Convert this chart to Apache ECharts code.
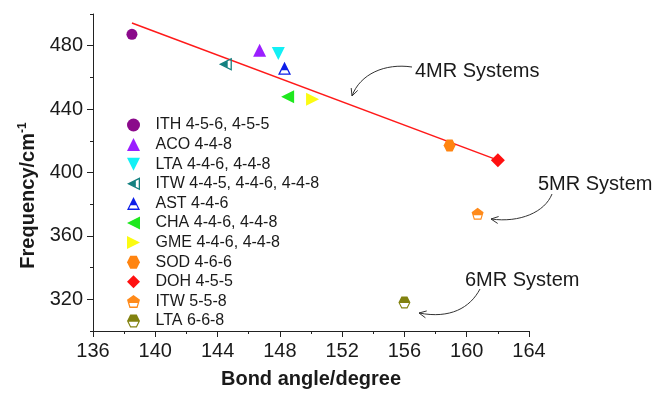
<!DOCTYPE html>
<html><head><meta charset="utf-8">
<script src="https://cdn.jsdelivr.net/npm/echarts@6/dist/echarts.min.js"></script>
<style>html,body{margin:0;padding:0;background:#fff}#c{width:654px;height:394px}</style>
</head><body><div id="c"></div>
<script>
// ---- data ----
const seriesNames = ['ITH 4-5-6, 4-5-5', 'ACO 4-4-8', 'LTA 4-4-6, 4-4-8', 'ITW 4-4-5, 4-4-6, 4-4-8', 'AST 4-4-6', 'CHA 4-4-6, 4-4-8', 'GME 4-4-6, 4-4-8', 'SOD 4-6-6', 'DOH 4-5-5', 'ITW 5-5-8', 'LTA 6-6-8'];
const bondAngle = [138.5, 146.7, 147.9, 144.5, 148.3, 148.5, 150.1, 158.9, 162.0, 160.7, 156.0];
const frequency = [487.2, 477.1, 475.1, 468.3, 465.7, 447.8, 446.2, 417.0, 407.8, 374.0, 318.0];
const fitAngle = [138.5, 162.0];
const fitFrequency = [494.3, 407.8];
const xTicks = [136, 140, 144, 148, 152, 156, 160, 164];
const yTicks = [320, 360, 400, 440, 480];
const yMinorTicks = [300, 340, 380, 420, 460, 500];
const annotationTexts = ['4MR Systems', '5MR System', '6MR System'];

// ---- styles ----
const FONT = '"Liberation Sans", Arial, sans-serif';
const colors = ['#8b0a8b', '#9b1fff', '#12f0f5', '#138080', '#0d1ee8', '#1ee81e', '#fbfb12', '#ff8410', '#ff1010', '#ff8a1a', '#82820f'];
const S = {
  triUp: 'path://M50,0L100,100L0,100Z',
  triDown: 'path://M0,0L100,0L50,100Z',
  triLeft: 'path://M0,50L100,0L100,100Z',
  triRight: 'path://M0,0L100,50L0,100Z',
  diamond: 'path://M50,0L100,50L50,100L0,50Z',
  hex: 'path://M25,0L75,0L100,50L75,100L25,100L0,50Z',
  halfLeft: 'path://M0,50L100,0L100,100Z M22.4,50L90,83.8L90,16.2Z M22.4,50L68,27.2L68,72.8Z',
  halfUp: 'path://M50,0L100,100L0,100Z M50,22.4L16.2,90L83.8,90Z M50,22.4L71.3,65L28.7,65Z',
  halfPent: 'path://M50,0L100,38L81,100L19,100L0,38Z M50,11.4L11,41.1L25.8,89.4L74.2,89.4L89,41.1Z M50,11.4L89,41.1L82.6,62L17.4,62L11,41.1Z',
  halfHex: 'path://M25,0L75,0L100,50L75,100L25,100L0,50Z M30,10L10,50L30,90L70,90L90,50L70,10Z M30,10L70,10L90,50L87.5,55L12.5,55L10,50Z'
};
const symbols = ['circle', S.triUp, S.triDown, S.halfLeft, S.halfUp, S.triLeft, S.triRight, S.hex, S.diamond, S.halfPent, S.halfHex];
const sizes = [11, 13, 13, 13, 13, 13, 13, 12, 14, 12, 12];

const chart = echarts.init(document.getElementById('c'), null, {renderer: 'canvas'});

const scatterSeries = seriesNames.map((n, i) => ({
  name: n, type: 'scatter', xAxisIndex: 0, yAxisIndex: 0,
  symbol: symbols[i], symbolSize: sizes[i],
  itemStyle: {color: colors[i], opacity: 1},
  data: [[bondAngle[i], frequency[i]]],
  z: 3
}));

const option = {
  animation: false,
  backgroundColor: '#fff',
  textStyle: {fontFamily: FONT},
  grid: {left: 93, right: 125, top: 14, bottom: 56, containLabel: false},
  legend: {
    orient: 'vertical', left: 127, top: 117, padding: 0, itemGap: 3.6,
    itemWidth: 34, itemHeight: 13,
    textStyle: {fontSize: 16, color: '#1a1a1a', fontFamily: FONT},
    data: seriesNames, selectedMode: false
  },
  xAxis: [{
    type: 'value', min: 136, max: 164, interval: 4,
    name: 'Bond angle/degree', nameLocation: 'middle', nameGap: 38,
    nameTextStyle: {fontSize: 20, fontWeight: 'bold', color: '#1a1a1a', fontFamily: FONT},
    axisLine: {show: true, lineStyle: {color: '#222', width: 1}},
    axisTick: {show: true, length: 6, lineStyle: {color: '#222'}},
    minorTick: {show: true, splitNumber: 2, length: 3, lineStyle: {color: '#222'}},
    axisLabel: {fontSize: 20, color: '#1a1a1a', margin: 10, fontFamily: FONT, customValues: xTicks},
    splitLine: {show: false}, minorSplitLine: {show: false}
  }],
  yAxis: [{
    type: 'value', min: 300, max: 500, interval: 20,
    name: '{a|Frequency/cm}{b|-1}', nameLocation: 'middle', nameGap: 51,
    nameTextStyle: {
      color: '#1a1a1a', fontFamily: FONT, padding: [0, 46, 0, 0],
      rich: {
        a: {fontSize: 20, fontWeight: 'bold', color: '#1a1a1a', fontFamily: FONT, lineHeight: 24},
        b: {fontSize: 12, fontWeight: 'bold', color: '#1a1a1a', fontFamily: FONT, verticalAlign: 'top', lineHeight: 14}
      }
    },
    axisLine: {show: true, lineStyle: {color: '#222', width: 1}},
    axisTick: {show: true, length: 6, lineStyle: {color: '#222'}, customValues: yTicks},
    axisLabel: {fontSize: 20, color: '#1a1a1a', margin: 10, fontFamily: FONT, customValues: yTicks},
    splitLine: {show: false}
  }, {
    type: 'value', min: 300, max: 500, interval: 20, position: 'right', offset: -436,
    axisLine: {show: false},
    axisTick: {show: true, inside: true, length: 3, lineStyle: {color: '#222'}, customValues: yMinorTicks},
    axisLabel: {show: false},
    splitLine: {show: false}
  }],
  series: [{
    name: 'fit', type: 'line', xAxisIndex: 0, yAxisIndex: 0,
    data: fitAngle.map((x, i) => [x, fitFrequency[i]]),
    showSymbol: false, symbol: 'none', silent: true,
    lineStyle: {color: '#ff1a1a', width: 1.5}, z: 2
  }].concat(scatterSeries)
};
chart.setOption(option);

// ---- annotations (text + curved arrows) ----
function arrow(p0, c1, c2, p3) {
  const dx = p3[0] - c2[0], dy = p3[1] - c2[1];
  const a = Math.atan2(dy, dx), L = 8, w = 0.45;
  const back1 = [p3[0] - L * Math.cos(a - w), p3[1] - L * Math.sin(a - w)];
  const back2 = [p3[0] - L * Math.cos(a + w), p3[1] - L * Math.sin(a + w)];
  return [
    {type: 'bezierCurve', shape: {x1: p0[0], y1: p0[1], cpx1: c1[0], cpy1: c1[1], cpx2: c2[0], cpy2: c2[1], x2: p3[0], y2: p3[1]},
     style: {stroke: '#333', lineWidth: 1, fill: null}, silent: true},
    {type: 'polyline', shape: {points: [back1, p3, back2]}, style: {stroke: '#333', lineWidth: 1, fill: null}, silent: true}
  ];
}
const textStyle = {fill: '#1a1a1a', fontSize: 20, fontFamily: FONT, textVerticalAlign: 'middle'};
const graphics = [
  {type: 'text', left: 415, top: 61, style: Object.assign({text: annotationTexts[0]}, textStyle), silent: true},
  {type: 'text', left: 538, top: 174, style: Object.assign({text: annotationTexts[1]}, textStyle), silent: true},
  {type: 'text', left: 465, top: 270, style: Object.assign({text: annotationTexts[2]}, textStyle), silent: true}
].concat(
  arrow([412, 67], [385, 63], [360, 74], [352, 96]),
  arrow([552, 194], [545, 212], [520, 223], [491, 219]),
  arrow([480, 289], [470, 308], [450, 319], [419, 313])
);
chart.setOption({graphic: graphics});
</script></body></html>
